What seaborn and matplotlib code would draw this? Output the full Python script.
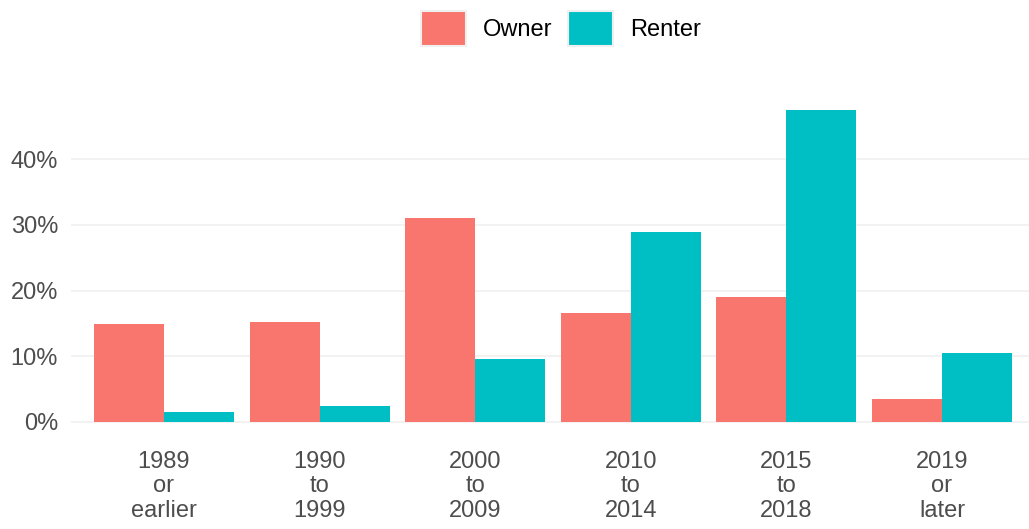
import matplotlib
matplotlib.use("Agg")
import matplotlib.pyplot as plt
from matplotlib.patches import Patch
from matplotlib.ticker import FuncFormatter
import pandas as pd
import seaborn as sns

# move-in period for the householder, share of each tenure
periods = ["1989\nor\nearlier", "1990\nto\n1999", "2000\nto\n2009",
           "2010\nto\n2014", "2015\nto\n2018", "2019\nor\nlater"]
tenures = ["Owner", "Renter"]
owner_pct = [14.9, 15.2, 31.0, 16.6, 19.0, 3.5]
renter_pct = [1.5, 2.4, 9.6, 28.9, 47.5, 10.5]
y_ticks = [0, 10, 20, 30, 40]
colors = ["#F8766D", "#00BFC4"]

df = pd.DataFrame({
    "period": periods * 2,
    "tenure": ["Owner"] * len(periods) + ["Renter"] * len(periods),
    "pct": owner_pct + renter_pct,
})

sns.set_theme(style="white")
plt.rcParams["font.family"] = ["Liberation Sans", "DejaVu Sans"]

fig = plt.figure(figsize=(10.29, 5.29), dpi=100)
ax = fig.add_axes([70.6 / 1029, 0.1733, (1029 - 70.6) / 1029, 0.6482])

sns.barplot(data=df, x="period", y="pct", hue="tenure", order=periods,
            hue_order=tenures, palette=colors, width=0.9, gap=0,
            saturation=1, legend=False, ax=ax, zorder=2, linewidth=0)

ax.set_ylim(-2.375, 49.9)
ax.set_xlim(-0.6, (1029 - 164) / 155.6)
ax.set_yticks(y_ticks)
ax.yaxis.set_major_formatter(FuncFormatter(lambda v, p: f"{v:.0f}%"))

# light horizontal grid, broken by white lines at each category
ax.grid(axis="y", color="#EFEFEF", linewidth=1.1, zorder=0)
ax.grid(axis="x", color="white", linewidth=1.2, zorder=1)
ax.set_axisbelow(True)

for s in ax.spines.values():
    s.set_visible(False)
ax.set_xlabel("")
ax.set_ylabel("")
ax.tick_params(axis="y", length=0, pad=9, labelsize=17, labelcolor="#4D4D4D")
ax.tick_params(axis="x", length=0, pad=10, labelsize=17, labelcolor="#4D4D4D")
for lab in ax.get_xticklabels():
    lab.set_linespacing(1.13)

handles = [Patch(facecolor=c, edgecolor="#F0F0F0", linewidth=1.5, label=t)
           for c, t in zip(colors, tenures)]
fig.legend(handles=handles, loc="center", bbox_to_anchor=(0.545, 0.946),
           ncol=2, frameon=False, fontsize=17, handlelength=1.9,
           handleheight=1.9, handletextpad=0.72, columnspacing=0.68,
           labelcolor="black")

fig.savefig("out.png", dpi=100)
